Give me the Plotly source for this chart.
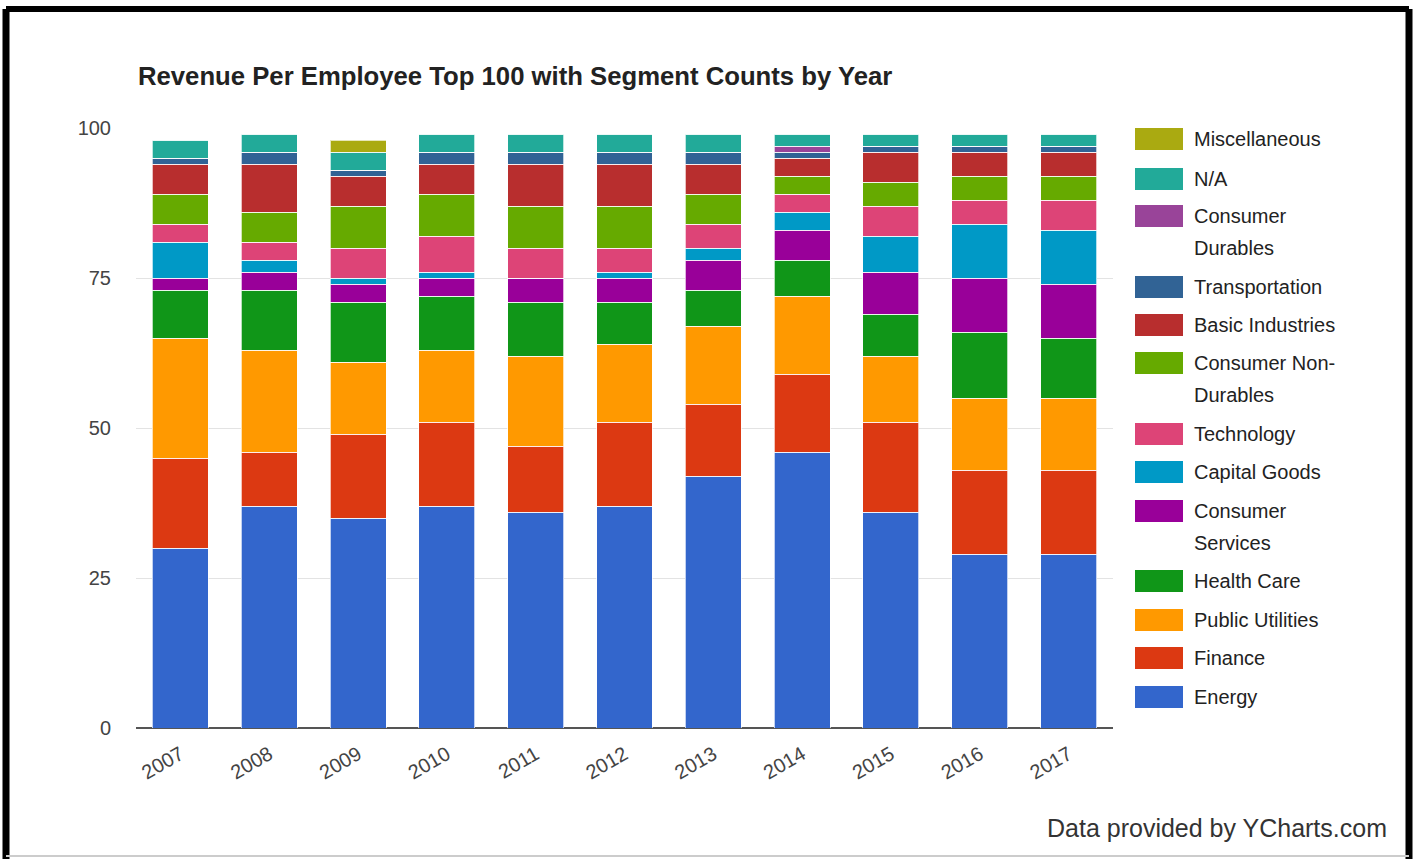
import plotly.graph_objects as go

# Segment counts among the top 100 revenue-per-employee companies, by year
years = ["2007", "2008", "2009", "2010", "2011", "2012", "2013", "2014", "2015", "2016", "2017"]

energy = [30, 37, 35, 37, 36, 37, 42, 46, 36, 29, 29]
finance = [15, 9, 14, 14, 11, 14, 12, 13, 15, 14, 14]
public_utilities = [20, 17, 12, 12, 15, 13, 13, 13, 11, 12, 12]
health_care = [8, 10, 10, 9, 9, 7, 6, 6, 7, 11, 10]
consumer_services = [2, 3, 3, 3, 4, 4, 5, 5, 7, 9, 9]
capital_goods = [6, 2, 1, 1, 0, 1, 2, 3, 6, 9, 9]
technology = [3, 3, 5, 6, 5, 4, 4, 3, 5, 4, 5]
consumer_non_durables = [5, 5, 7, 7, 7, 7, 5, 3, 4, 4, 4]
basic_industries = [5, 8, 5, 5, 7, 7, 5, 3, 5, 4, 4]
transportation = [1, 2, 1, 2, 2, 2, 2, 1, 1, 1, 1]
consumer_durables = [0, 0, 0, 0, 0, 0, 0, 1, 0, 0, 0]
not_available = [3, 3, 3, 3, 3, 3, 3, 2, 2, 2, 2]
miscellaneous = [0, 0, 2, 0, 0, 0, 0, 0, 0, 0, 0]

y_ticks = [0, 25, 50, 75, 100]

# (name, values, colour, legend label lines), stacked bottom to top
segments = [
    ("Energy", energy, "#3366cc", ["Energy"]),
    ("Finance", finance, "#dc3912", ["Finance"]),
    ("Public Utilities", public_utilities, "#ff9900", ["Public Utilities"]),
    ("Health Care", health_care, "#109618", ["Health Care"]),
    ("Consumer Services", consumer_services, "#990099", ["Consumer", "Services"]),
    ("Capital Goods", capital_goods, "#0099c6", ["Capital Goods"]),
    ("Technology", technology, "#dd4477", ["Technology"]),
    ("Consumer Non-Durables", consumer_non_durables, "#66aa00", ["Consumer Non-", "Durables"]),
    ("Basic Industries", basic_industries, "#b82e2e", ["Basic Industries"]),
    ("Transportation", transportation, "#316395", ["Transportation"]),
    ("Consumer Durables", consumer_durables, "#994499", ["Consumer", "Durables"]),
    ("N/A", not_available, "#22aa99", ["N/A"]),
    ("Miscellaneous", miscellaneous, "#aaaa11", ["Miscellaneous"]),
]

W, H = 1417, 859
ML, MR, MT, MB = 136, 304, 128, 131
PW, PH = W - ML - MR, H - MT - MB

FONT = "Liberation Sans, Arial, sans-serif"


def px_x(px):
    return (px - ML) / PW


def px_y(py):
    return (H - MB - py) / PH


fig = go.Figure()
for name, vals, color, _ in segments:
    fig.add_trace(go.Bar(
        x=years, y=vals, name=name,
        marker=dict(color=color, line=dict(color="rgba(255,255,255,0.7)", width=1)),
    ))

shapes = []
annotations = []

# Hand-laid legend on the right, top entry first
legend_rows = [
    ("Miscellaneous", 139), ("N/A", 179), ("Consumer Durables", 216),
    ("Transportation", 287), ("Basic Industries", 325), ("Consumer Non-Durables", 363),
    ("Technology", 434), ("Capital Goods", 472), ("Consumer Services", 511),
    ("Health Care", 581), ("Public Utilities", 620), ("Finance", 658), ("Energy", 697),
]
seg_lookup = {s[0]: s for s in segments}
for name, yc in legend_rows:
    _, _, color, lines = seg_lookup[name]
    shapes.append(dict(
        type="rect", xref="paper", yref="paper",
        x0=px_x(1135), x1=px_x(1183), y0=px_y(yc + 11), y1=px_y(yc - 11),
        fillcolor=color, line=dict(width=0),
    ))
    for i, line in enumerate(lines):
        annotations.append(dict(
            xref="paper", yref="paper", x=px_x(1192), y=px_y(yc + i * 32),
            xanchor="left", yanchor="middle", text=line, showarrow=False,
            font=dict(family=FONT, size=20, color="#222222"),
        ))

# Title and source note
annotations.append(dict(
    xref="paper", yref="paper", x=px_x(136), y=px_y(76), xanchor="left", yanchor="middle",
    text="<b>Revenue Per Employee Top 100 with Segment Counts by Year</b>", showarrow=False,
    font=dict(family=FONT, size=25.7, color="#222222"),
))
annotations.append(dict(
    xref="paper", yref="paper", x=px_x(1389), y=px_y(828), xanchor="right", yanchor="middle",
    text="Data provided by YCharts.com", showarrow=False,
    font=dict(family=FONT, size=25, color="#333333"),
))

# Picture frame: heavy black on left, top and right, faint grey at the bottom
frame = [
    (6, 9, 6, 859, "black", 7),
    (6, 9, 1409, 9, "black", 6),
    (1409, 9, 1409, 859, "black", 7),
    (6, 856, 1409, 856, "#cccccc", 2),
]
for x0, y0, x1, y1, c, w in frame:
    shapes.append(dict(type="line", xref="paper", yref="paper",
                       x0=px_x(x0), y0=px_y(y0), x1=px_x(x1), y1=px_y(y1),
                       line=dict(color=c, width=w)))

fig.update_layout(
    barmode="stack",
    bargap=0.37,
    width=W, height=H,
    margin=dict(l=ML, r=MR, t=MT, b=MB),
    paper_bgcolor="white",
    plot_bgcolor="white",
    showlegend=False,
    shapes=shapes,
    annotations=annotations,
    font=dict(family=FONT, color="#444444"),
    xaxis=dict(
        type="category", tickangle=-30, showgrid=False,
        ticks="outside", ticklen=6, tickcolor="rgba(0,0,0,0)",
        tickfont=dict(family=FONT, size=20, color="#444444"),
        showline=False,
    ),
    yaxis=dict(
        range=[0, 100], tickvals=y_ticks, ticktext=[str(t) for t in y_ticks],
        showgrid=True, gridcolor="#e3e3e3", gridwidth=1,
        zeroline=True, zerolinecolor="#555555", zerolinewidth=1.5,
        tickfont=dict(family=FONT, size=20, color="#444444"),
        ticks="outside", ticklen=20, tickcolor="rgba(0,0,0,0)",
    ),
)

fig.write_html("out.html")
